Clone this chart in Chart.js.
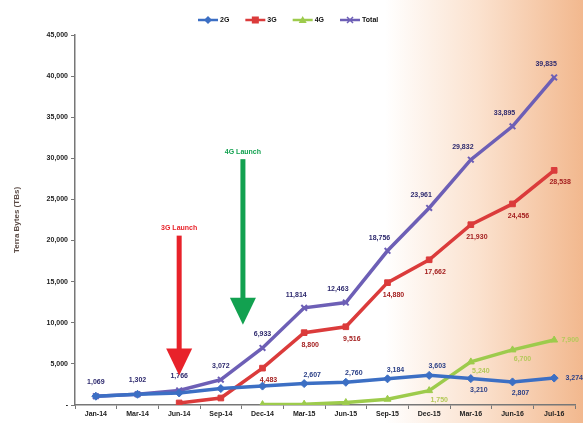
<!doctype html>
<html lang="en">
<head>
<meta charset="utf-8">
<title>Data traffic</title>
<script src="https://cdn.jsdelivr.net/npm/chart.js"></script>
<style>
  body { margin: 0; background: #fff; }
  #wrap { width: 583px; height: 423px; }
</style>
</head>
<body>
<div id="wrap"><canvas id="chart" width="583" height="423"></canvas></div>
<script>
// values (TBs per quarter)
var months = ['Jan-14', 'Mar-14', 'Jun-14', 'Sep-14', 'Dec-14', 'Mar-15', 'Jun-15', 'Sep-15', 'Dec-15', 'Mar-16', 'Jun-16', 'Jul-16'];
var g2 = [1069, 1302, 1460, 2000, 2300, 2607, 2760, 3184, 3603, 3210, 2807, 3274];
var g3 = [null, null, 250, 850, 4483, 8800, 9516, 14880, 17662, 21930, 24456, 28538];
var g4 = [null, null, null, null, 50, 100, 300, 700, 1750, 5240, 6700, 7900];
var total = [1069, 1302, 1766, 3072, 6933, 11814, 12463, 18756, 23961, 29832, 33895, 39835];
var yTicks = [0, 5000, 10000, 15000, 20000, 25000, 30000, 35000, 40000, 45000];

// launch arrows: category position, top value, tip value
var launches = [
    { text: '3G Launch', at: 2, from: 20600, to: 3600, color: '#e8222a' },
    { text: '4G Launch', at: 3.53, from: 29900, to: 9750, color: '#12a150' }
];

var fmt = function (v) { return v.toLocaleString('en-US'); };
var FONT = '"Liberation Sans", Arial, sans-serif';

var bgPlugin = {
    id: 'bg',
    beforeDraw: function (chart) {
        var c = chart.ctx, w = chart.width, h = chart.height;
        var g = c.createLinearGradient(0, 0, w, 0);
        g.addColorStop(0, '#ffffff');
        g.addColorStop(0.66, '#ffffff');
        g.addColorStop(0.82, '#fbe2cf');
        g.addColorStop(1, '#f2b88e');
        c.save();
        c.fillStyle = g;
        c.fillRect(0, 0, w, h);
        c.restore();
    }
};

function marker(c, style, x, y, color) {
    c.save();
    c.fillStyle = color;
    c.strokeStyle = color;
    c.lineWidth = 1.5;
    c.beginPath();
    if (style == 'rectRot') {
        c.moveTo(x, y - 4); c.lineTo(x + 4, y); c.lineTo(x, y + 4); c.lineTo(x - 4, y); c.closePath(); c.fill();
    } else if (style == 'rect') {
        c.fillRect(x - 3.5, y - 3.5, 7, 7);
    } else if (style == 'triangle') {
        c.moveTo(x, y - 4); c.lineTo(x + 4, y + 3); c.lineTo(x - 4, y + 3); c.closePath(); c.fill();
    } else {
        c.moveTo(x - 3, y - 3); c.lineTo(x + 3, y + 3); c.moveTo(x + 3, y - 3); c.lineTo(x - 3, y + 3); c.stroke();
    }
    c.restore();
}

var extrasPlugin = {
    id: 'extras',
    afterDatasetsDraw: function (chart) {
        var c = chart.ctx;
        var xs = chart.scales.x, ys = chart.scales.y;

        // point labels
        var labelStyle = [
            { color: '#2a3f86', dx: function (i) { return i == 11 ? 20 : 8; }, dy: function (i) { return i == 11 ? 0 : (i >= 9 ? 11 : -9); } },
            { color: '#a41f1f', dx: function (i) { return 6; }, dy: function (i) { return 12; } },
            { color: '#b5c95a', dx: function (i) { return i == 11 ? 16 : 10; }, dy: function (i) { return i == 11 ? 0 : 9; } },
            { color: '#2e2a6e', dx: function (i) { return i < 5 ? 0 : -8; }, dy: function (i) { return i < 5 ? -14 : -13; } }
        ];
        c.save();
        c.font = 'bold 7px ' + FONT;
        c.textAlign = 'center';
        c.textBaseline = 'middle';
        chart.data.datasets.forEach(function (ds, k) {
            var meta = chart.getDatasetMeta(k);
            ds.data.forEach(function (v, i) {
                if (v === null) return;
                // before 3G the 2G line is the total, and tiny values sit on the axis
                if (k == 0 && i < 5) return;
                if ((k == 1 || k == 2) && v < 1000) return;
                var p = meta.data[i];
                c.fillStyle = labelStyle[k].color;
                c.fillText(fmt(v), p.x + labelStyle[k].dx(i), p.y + labelStyle[k].dy(i));
            });
        });
        c.restore();

        // launch arrows
        launches.forEach(function (a) {
            var x = xs.getPixelForValue(a.at);
            var top = ys.getPixelForValue(a.from);
            var tip = ys.getPixelForValue(a.to);
            c.save();
            c.fillStyle = a.color;
            c.fillRect(x - 2.5, top, 5, tip - top - 24);
            c.beginPath();
            c.moveTo(x - 13, tip - 27);
            c.lineTo(x + 13, tip - 27);
            c.lineTo(x, tip);
            c.closePath();
            c.fill();
            c.font = 'bold 7px ' + FONT;
            c.textAlign = 'center';
            c.textBaseline = 'bottom';
            c.fillText(a.text, x, top - 4);
            c.restore();
        });

        // legend
        c.save();
        c.font = 'bold 7px ' + FONT;
        c.textBaseline = 'middle';
        var lx = 198, ly = 20;
        chart.data.datasets.forEach(function (ds) {
            c.strokeStyle = ds.borderColor;
            c.lineWidth = 2.5;
            c.beginPath();
            c.moveTo(lx, ly);
            c.lineTo(lx + 20, ly);
            c.stroke();
            marker(c, ds.pointStyle, lx + 10, ly, ds.borderColor);
            c.fillStyle = '#111';
            c.fillText(ds.label, lx + 22, ly);
            lx += 22 + c.measureText(ds.label).width + 16;
        });
        c.restore();
    }
};

function series(label, data, color, style) {
    return {
        label: label,
        data: data,
        borderColor: color,
        backgroundColor: color,
        borderWidth: 3.5,
        pointStyle: style,
        pointRadius: 4,
        pointBorderWidth: style == 'crossRot' ? 2 : 1,
        tension: 0
    };
}

new Chart(document.getElementById('chart').getContext('2d'), {
    type: 'line',
    data: {
        labels: months,
        datasets: [
            series('2G', g2, '#3c6fc4', 'rectRot'),
            series('3G', g3, '#db3b3b', 'rect'),
            series('4G', g4, '#9dcb4c', 'triangle'),
            series('Total', total, '#6d5fb6', 'crossRot')
        ]
    },
    options: {
        responsive: false,
        animation: false,
        layout: { padding: { top: 35, right: 8, left: 0, bottom: 0 } },
        plugins: {
            legend: { display: false },
            tooltip: { enabled: false }
        },
        scales: {
            x: {
                offset: true,
                grid: { display: true, offset: true, drawOnChartArea: false, drawTicks: true, tickLength: 4, color: '#777' },
                border: { display: true, color: '#777', width: 1.5 },
                ticks: {
                    autoSkip: false, maxRotation: 0, padding: 1, color: '#222',
                    font: { family: FONT, size: 7, weight: 'bold' }
                },
                afterFit: function (s) { s.height = 18; }
            },
            y: {
                min: 0,
                max: 45000,
                afterBuildTicks: function (s) { s.ticks = yTicks.map(function (v) { return { value: v }; }); },
                grid: { display: true, drawOnChartArea: false, drawTicks: true, tickLength: 4, color: '#777' },
                border: { display: true, color: '#777', width: 1.5 },
                ticks: {
                    padding: 3, color: '#222',
                    font: { family: FONT, size: 7, weight: 'bold' },
                    callback: function (v) { return v === 0 ? '-' : fmt(v); }
                },
                title: {
                    display: true,
                    text: 'Terra Bytes (TBs)',
                    color: '#5a4a44',
                    padding: { top: 12, bottom: 0 },
                    font: { family: FONT, size: 8, weight: 'bold' }
                },
                afterFit: function (s) { s.width = 75; }
            }
        }
    },
    plugins: [bgPlugin, extrasPlugin]
});
</script>
</body>
</html>
